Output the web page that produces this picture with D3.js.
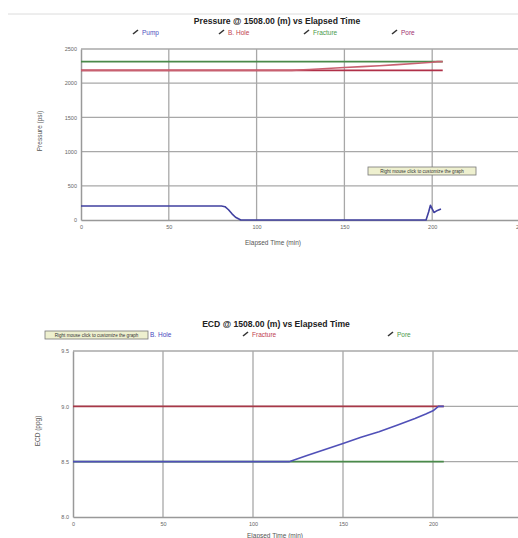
<!DOCTYPE html>
<html><head><meta charset="utf-8">
<script src="https://cdn.jsdelivr.net/npm/d3@7"></script>
<style>body{margin:0;background:#fff;overflow:hidden}svg{display:block;font-family:Arial,"Liberation Sans",sans-serif}</style>
</head><body>
<script>
// ---------- data ----------
const xTicks = [0, 50, 100, 150, 200, 250];
const pressureTicks = [0, 500, 1000, 1500, 2000, 2500];
const ecdTicks = [8.0, 8.5, 9.0, 9.5];
const ecdTickLabels = ["8.0", "8.5", "9.0", "9.5"];

// Pressure chart (psi)
const pumpTime  = [0, 80, 82, 84, 86, 88, 91, 196.5, 198, 199, 201, 203, 205];
const pumpPsi   = [205, 205, 195, 150, 90, 40, 0, 0, 120, 215, 110, 140, 160];
const bholeTime = [0, 120, 130, 140, 150, 160, 170, 180, 190, 196, 200, 203, 206];
const bholePsi  = [2187, 2187, 2201, 2215, 2229, 2243, 2256, 2272, 2287, 2298, 2306, 2316, 2316];
const fracTime  = [0, 206];
const fracPsi   = [2316, 2316];
const poreTime  = [0, 206];
const porePsi   = [2187, 2187];

// ECD chart (ppg)
const ecdBholeTime = [0, 120, 130, 140, 150, 160, 170, 180, 190, 196, 200, 203, 206];
const ecdBhole     = [8.5, 8.5, 8.555, 8.61, 8.665, 8.72, 8.77, 8.83, 8.89, 8.93, 8.96, 9.0, 9.0];
const ecdFracTime  = [0, 206];
const ecdFrac      = [9.0, 9.0];
const ecdPoreTime  = [0, 206];
const ecdPore      = [8.5, 8.5];

const pressureLegend = ["Pump", "B. Hole", "Fracture", "Pore"];
const ecdLegend = ["B. Hole", "Fracture", "Pore"];

// ---------- drawing ----------
const W = 518, H = 538;
const svg = d3.select("body").append("svg").attr("width", W).attr("height", H);

svg.append("line").attr("x1", 8).attr("x2", W).attr("y1", 14).attr("y2", 14)
  .attr("stroke", "#dcdcdc").attr("stroke-width", 1);

const gridCol = "#a8a8a8";
function zip(a, b) { return a.map((v, i) => [v, b[i]]); }

function drawChart(cfg) {
  const g = svg.append("g");
  const x = d3.scaleLinear().domain([0, 250]).range(cfg.xr);
  const y = d3.scaleLinear().domain(cfg.yd).range(cfg.yr);

  // grid
  g.selectAll(".vg").data(xTicks.slice(1)).join("line")
    .attr("x1", d => x(d)).attr("x2", d => x(d)).attr("y1", cfg.yr[0]).attr("y2", cfg.yr[1])
    .attr("stroke", gridCol).attr("stroke-width", 1.3);
  g.selectAll(".hg").data(cfg.yTicks.slice(1)).join("line")
    .attr("x1", cfg.xr[0]).attr("x2", W).attr("y1", d => y(d)).attr("y2", d => y(d))
    .attr("stroke", gridCol).attr("stroke-width", 1.3);

  // axes
  const xa = g.append("g").attr("transform", `translate(0,${cfg.yr[0]})`)
    .call(d3.axisBottom(x).tickValues(xTicks).tickSize(0).tickPadding(5).tickFormat(d3.format("d")));
  const ya = g.append("g").attr("transform", `translate(${cfg.xr[0]},0)`)
    .call(d3.axisLeft(y).tickValues(cfg.yTicks).tickSize(0).tickPadding(4)
      .tickFormat((d, i) => cfg.yLabels ? cfg.yLabels[i] : d3.format("d")(d)));
  [xa, ya].forEach(a => {
    a.select(".domain").attr("stroke", "#999").attr("stroke-width", 1.5);
    a.selectAll("text").attr("fill", "#666").attr("font-size", 5.5);
  });

  // series
  const line = d3.line().x(d => x(d[0])).y(d => y(d[1]));
  cfg.series.forEach(s => {
    g.append("path").datum(zip(s.t, s.v)).attr("d", line)
      .attr("fill", "none").attr("stroke", s.color).attr("stroke-width", 1.6)
      .attr("stroke-linejoin", "round");
  });

  // title
  g.append("text").attr("x", cfg.titleX).attr("y", cfg.titleY).attr("text-anchor", "middle")
    .attr("font-size", 8.6).attr("font-weight", "bold").attr("fill", "#222").text(cfg.title);

  // legend
  cfg.legend.forEach(l => {
    if (l.icon) {
      g.append("line").attr("x1", l.x - 9).attr("x2", l.x - 4).attr("y1", cfg.legY + 1).attr("y2", cfg.legY - 3)
        .attr("stroke", "#333").attr("stroke-width", 1.6);
    }
    g.append("text").attr("x", l.x).attr("y", cfg.legY + 2).attr("font-size", 6.5)
      .attr("fill", l.color).text(l.name);
  });

  // axis labels
  g.append("text").attr("x", cfg.xLabX).attr("y", cfg.xLabY).attr("text-anchor", "middle")
    .attr("font-size", 6.5).attr("fill", "#555").text("Elapsed Time (min)");
  g.append("text").attr("transform", `translate(${cfg.yLabX},${cfg.yLabY}) rotate(-90)`)
    .attr("text-anchor", "middle").attr("font-size", 6.5).attr("fill", "#555").text(cfg.yTitle);
  return g;
}

function tip(x0, y0, w, h) {
  svg.append("rect").attr("x", x0).attr("y", y0).attr("width", w).attr("height", h)
    .attr("fill", "#eef0cf").attr("stroke", "#777").attr("stroke-width", 0.8);
  svg.append("text").attr("x", x0 + w / 2).attr("y", y0 + h - 2.2).attr("text-anchor", "middle")
    .attr("font-size", 4.6).attr("fill", "#333").text("Right mouse click to customize the graph");
}

// Pressure chart
drawChart({
  xr: [81, 520], yd: [0, 2500], yr: [220, 49], yTicks: pressureTicks,
  title: "Pressure @ 1508.00 (m) vs Elapsed Time", titleX: 277, titleY: 24,
  legY: 33,
  legend: [
    { name: pressureLegend[0], x: 142, color: "#5050c0", icon: true },
    { name: pressureLegend[1], x: 228, color: "#c04050", icon: true },
    { name: pressureLegend[2], x: 313, color: "#4a9a4a", icon: true },
    { name: pressureLegend[3], x: 401, color: "#a03070", icon: true }
  ],
  series: [
    { t: fracTime, v: fracPsi, color: "#4a8a4a" },
    { t: poreTime, v: porePsi, color: "#b03048" },
    { t: bholeTime, v: bholePsi, color: "#c86070" },
    { t: pumpTime, v: pumpPsi, color: "#4040a0" }
  ],
  xLabX: 273, xLabY: 245, yLabX: 42, yLabY: 131, yTitle: "Pressure (psi)"
});
tip(368, 167, 108, 8);

// ECD chart
drawChart({
  xr: [73, 523], yd: [8, 9.5], yr: [517, 351], yTicks: ecdTicks, yLabels: ecdTickLabels,
  title: "ECD @ 1508.00 (m) vs Elapsed Time", titleX: 276, titleY: 327,
  legY: 335,
  legend: [
    { name: ecdLegend[0], x: 150, color: "#4848c0", icon: true },
    { name: ecdLegend[1], x: 252, color: "#c04050", icon: true },
    { name: ecdLegend[2], x: 397, color: "#4a9a4a", icon: true }
  ],
  series: [
    { t: ecdFracTime, v: ecdFrac, color: "#a83848" },
    { t: ecdPoreTime, v: ecdPore, color: "#4a8a4a" },
    { t: ecdBholeTime, v: ecdBhole, color: "#5050b8" }
  ],
  xLabX: 275, xLabY: 538, yLabX: 40, yLabY: 431, yTitle: "ECD (ppg)"
});
tip(45, 331, 103, 8);
</script>
</body></html>
